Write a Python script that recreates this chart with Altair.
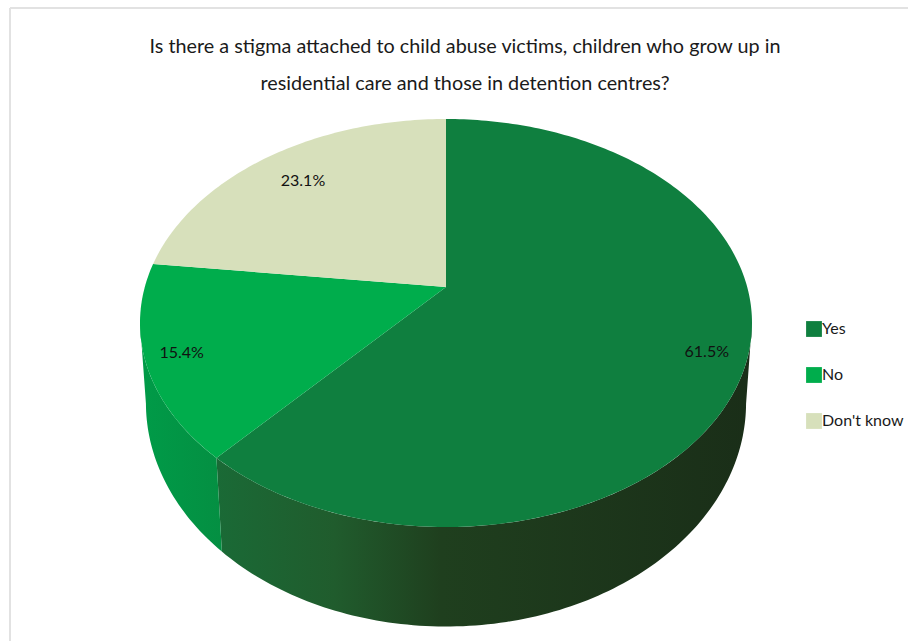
import math

import altair as alt
import pandas as pd

# Survey answers
categories = ["Yes", "No", "Don't know"]
shares = [61.5, 15.4, 23.1]
top_colors = ["#0f7f3f", "#00ad4c", "#d7e0bb"]
title_lines = [
    "Is there a stigma attached to child abuse victims, children who grow up in",
    "residential care and those in detention centres?",
]

FONT = "Lato"

# Perspective of the tilted disc: the near edge is enlarged by 1 / (1 + k * v)
CX = 446
TOP_RIM = dict(a=287, b=147, d=301.2, k=0.1765)
BOTTOM_RIM = dict(a=365, b=155, d=295.7, k=0.17)
LABEL_RADIUS = {"Yes": 0.875, "No": 0.887, "Don't know": 0.79}
VISIBLE_SWEEP = (100, 260)
TITLE_CENTER_X = 465
TITLE_LINE_Y = [47, 84]


def project(angle, radius, rim):
    """Map a clockwise angle from 12 o'clock on the disc to chart coordinates."""
    u = radius * math.sin(math.radians(angle))
    v = radius * math.cos(math.radians(angle))
    den = 1 + rim["k"] * v
    return CX + rim["d"] * u / den, (rim["a"] - rim["b"] * v) / den


def sweep(start, end):
    n = max(2, int(abs(end - start)) + 1)
    return [start + (end - start) * i / (n - 1) for i in range(n)]


# Slice boundaries in degrees, from the answer shares
total = sum(shares)
bounds = [0.0]
for share in shares:
    bounds.append(bounds[-1] + share / total * 360)

face_rows, wall_rows, label_rows = [], {}, []
for i, name in enumerate(categories):
    start, end = bounds[i], bounds[i + 1]
    outline = [project(0, 0, TOP_RIM)] + [project(a, 1, TOP_RIM) for a in sweep(start, end)]
    for step, (x, y) in enumerate(outline):
        face_rows.append({"answer": name, "step": step, "x": x, "y": y})

    lo, hi = max(start, VISIBLE_SWEEP[0]), min(end, VISIBLE_SWEEP[1])
    if hi > lo:
        angles = sweep(lo, hi)
        wall = [project(a, 1, TOP_RIM) for a in angles]
        wall += [project(a, 1, BOTTOM_RIM) for a in reversed(angles)]
        wall_rows[name] = [{"step": s, "x": x, "y": y} for s, (x, y) in enumerate(wall)]

    lx, ly = project((start + end) / 2, LABEL_RADIUS[name], TOP_RIM)
    label_rows.append({"x": lx, "y": ly, "label": f"{shares[i]}%"})

x_scale = alt.Scale(domain=[0, 908], nice=False, zero=False)
y_scale = alt.Scale(domain=[641, 0], nice=False, zero=False)
x_enc = alt.X("x:Q", scale=x_scale, axis=None)
y_enc = alt.Y("y:Q", scale=y_scale, axis=None)


def wall_layer(rows, stops):
    gradient = alt.Gradient(
        gradient="linear",
        x1=0, x2=1, y1=0, y2=0,
        stops=[alt.GradientStop(offset=o, color=c) for o, c in stops],
    )
    return (
        alt.Chart(pd.DataFrame(rows))
        .mark_line(fill=gradient, strokeOpacity=0)
        .encode(x=x_enc, y=y_enc, order=alt.Order("step:Q"))
    )


yes_wall = wall_layer(
    wall_rows["Yes"],
    [(0, "#1a6a36"), (0.22, "#205c2d"), (0.42, "#1f3f1e"), (1, "#1a2e18")],
)
no_wall = wall_layer(wall_rows["No"], [(0, "#009b48"), (1, "#048f42")])

faces = (
    alt.Chart(pd.DataFrame(face_rows))
    .mark_line(strokeOpacity=0)
    .encode(
        x=x_enc,
        y=y_enc,
        order=alt.Order("step:Q"),
        fill=alt.Fill(
            "answer:N",
            scale=alt.Scale(domain=categories, range=top_colors),
            legend=alt.Legend(
                title=None,
                orient="none",
                legendX=806,
                legendY=321,
                symbolType="square",
                symbolSize=250,
                symbolStrokeWidth=0,
                rowPadding=30,
                labelOffset=0,
                labelFont=FONT,
                labelFontSize=16,
                labelColor="#1a1a1a",
            ),
        ),
    )
)

labels = (
    alt.Chart(pd.DataFrame(label_rows))
    .mark_text(font=FONT, fontSize=16, color="#111111", align="center", baseline="middle")
    .encode(x=x_enc, y=y_enc, text="label:N")
)

title = (
    alt.Chart(pd.DataFrame({"x": TITLE_CENTER_X, "y": TITLE_LINE_Y, "line": title_lines}))
    .mark_text(font=FONT, fontSize=19.8, color="#1a1a1a", align="center", baseline="middle")
    .encode(x=x_enc, y=y_enc, text="line:N")
)

# Thin frame along the top and left of the chart
frame_top = (
    alt.Chart(pd.DataFrame({"x": [10], "x2": [908], "y": [8]}))
    .mark_rule(color="#e2e2e2", strokeWidth=2)
    .encode(x=x_enc, x2="x2:Q", y=y_enc)
)
frame_left = (
    alt.Chart(pd.DataFrame({"x": [10], "y": [8], "y2": [641]}))
    .mark_rule(color="#e2e2e2", strokeWidth=2)
    .encode(x=x_enc, y=y_enc, y2="y2:Q")
)

chart = (
    alt.layer(frame_top, frame_left, yes_wall, no_wall, faces, labels, title)
    .properties(
        width=908,
        height=641,
        padding=0,
        autosize=alt.AutoSizeParams(type="none"),
    )
    .configure_view(stroke=None)
)

chart.save("out.html", embed_options={"renderer": "svg", "actions": False})
